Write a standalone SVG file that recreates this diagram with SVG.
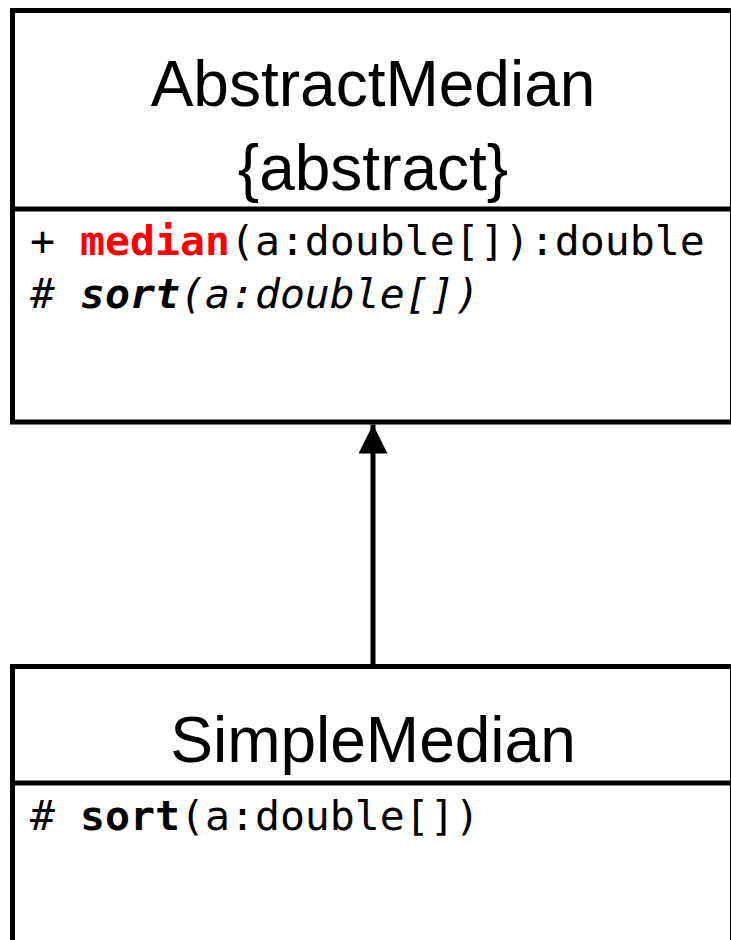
<svg xmlns="http://www.w3.org/2000/svg" width="731" height="940" viewBox="0 0 731 940">
  <defs>
    <style>
      .box { fill: #ffffff; stroke: #000000; stroke-width: 5; }
      .div { stroke: #000000; stroke-width: 5; fill: none; }
      .title { font-family: "Liberation Sans", Arial, sans-serif; font-size: 64px; fill: #000000; text-anchor: middle; }
      .mono { font-family: "DejaVu Sans Mono", "Liberation Mono", monospace; font-size: 41.5px; fill: #000000; }
      .red { fill: #ff0000; font-weight: bold; }
      .b { font-weight: bold; }
      .it { font-style: italic; }
      .conn { stroke: #000000; stroke-width: 5; fill: none; }
    </style>
    <marker id="tri" viewBox="0 0 30 29" refX="29" refY="14.5" markerWidth="30" markerHeight="29" markerUnits="userSpaceOnUse" orient="auto">
      <path d="M0,0 L29,14.5 L0,29 Z" fill="#000000"/>
    </marker>
  </defs>
  <rect x="0" y="0" width="731" height="940" fill="#ffffff"/>
  <g id="AbstractMedian">
    <rect class="box" x="12.5" y="10.5" width="720" height="411.5"/>
    <line class="div" x1="12.5" y1="209" x2="732.5" y2="209"/>
    <text class="title" x="373" y="106">AbstractMedian</text>
    <text class="title" x="373" y="190">{abstract}</text>
    <text class="mono" x="30" y="255">+ <tspan class="red">median</tspan>(a:double[]):double</text>
    <text class="mono it" x="30" y="308"># <tspan class="b">sort</tspan>(a:double[])</text>
  </g>
  <g id="SimpleMedian">
    <rect class="box" x="12.5" y="666.5" width="720" height="300"/>
    <line class="div" x1="12.5" y1="783" x2="732.5" y2="783"/>
    <text class="title" x="373" y="762">SimpleMedian</text>
    <text class="mono" x="30" y="830"># <tspan class="b">sort</tspan>(a:double[])</text>
  </g>
  <g id="connectors">
    <line class="conn" x1="373" y1="666.5" x2="373" y2="424.5" marker-end="url(#tri)"/>
  </g>
</svg>
